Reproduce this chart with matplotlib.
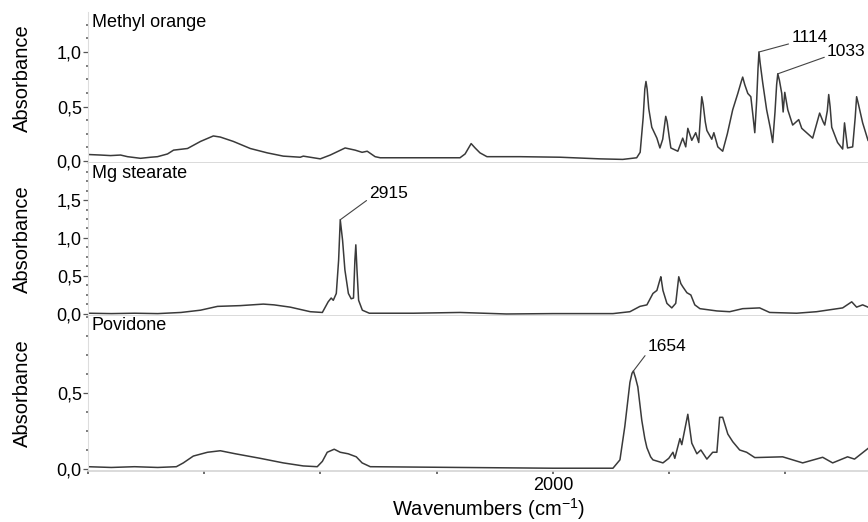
import matplotlib
matplotlib.use("Agg")
import matplotlib.pyplot as plt
from matplotlib.ticker import MultipleLocator

plt.rcParams['font.family'] = ['Liberation Sans', 'DejaVu Sans']
plt.rcParams['mathtext.fontset'] = 'custom'
plt.rcParams['mathtext.rm'] = 'Liberation Sans'

# IR spectra, wavenumber (cm-1) / absorbance
mo_wn = [4000, 3946, 3903, 3860, 3830, 3774, 3730, 3701, 3658, 3632, 3572, 3516,
         3461, 3431, 3375, 3302, 3229, 3160, 3087, 3074, 3001, 2958, 2894, 2851,
         2821, 2799, 2765, 2743, 2571, 2400, 2378, 2352, 2335, 2314, 2284, 2142,
         1970, 1798, 1700, 1640, 1625, 1612, 1605, 1600, 1595, 1588, 1575, 1553,
         1540, 1528, 1520, 1515, 1509, 1500, 1493, 1463, 1442, 1429, 1420, 1403,
         1386, 1373, 1366, 1360, 1354, 1345, 1338, 1317, 1308, 1291, 1270, 1250,
         1227, 1205, 1190, 1184, 1175, 1162, 1149, 1140, 1132, 1124, 1118, 1114,
         1109, 1098, 1081, 1065, 1055, 1045, 1038, 1033, 1026, 1016, 1010, 1003,
         990, 969, 943, 930, 883, 853, 838, 831, 820, 814, 808, 801, 776, 754,
         746, 733, 711, 700, 694, 686, 668, 645]
mo_abs = [0.06, 0.055, 0.05, 0.055, 0.04, 0.025, 0.035, 0.04, 0.065, 0.10, 0.115, 0.18,
          0.23, 0.22, 0.18, 0.115, 0.075, 0.045, 0.035, 0.045, 0.02, 0.055, 0.12, 0.10,
          0.08, 0.09, 0.04, 0.03, 0.03, 0.03, 0.065, 0.16, 0.12, 0.075, 0.04, 0.04,
          0.035, 0.02, 0.015, 0.03, 0.08, 0.40, 0.66, 0.73, 0.66, 0.48, 0.31, 0.21,
          0.12, 0.20, 0.33, 0.41, 0.36, 0.22, 0.12, 0.09, 0.21, 0.13, 0.30, 0.19,
          0.26, 0.17, 0.40, 0.59, 0.52, 0.36, 0.28, 0.20, 0.26, 0.13, 0.09, 0.25,
          0.47, 0.62, 0.73, 0.77, 0.70, 0.62, 0.59, 0.42, 0.26, 0.55, 0.85, 1.00,
          0.90, 0.72, 0.47, 0.30, 0.17, 0.45, 0.70, 0.80, 0.74, 0.62, 0.45, 0.63,
          0.47, 0.33, 0.38, 0.30, 0.21, 0.44, 0.36, 0.33, 0.46, 0.61, 0.50, 0.31,
          0.17, 0.11, 0.35, 0.12, 0.13, 0.40, 0.59, 0.52, 0.35, 0.19]

mg_wn = [4000, 3900, 3800, 3700, 3600, 3516, 3443, 3345, 3246, 3200, 3130, 3044,
         2992, 2967, 2954, 2945, 2932, 2922, 2915, 2905, 2895, 2880, 2868, 2858,
         2852, 2848, 2843, 2836, 2820, 2790, 2600, 2400, 2200, 2000, 1742, 1669,
         1626, 1596, 1570, 1553, 1540, 1536, 1527, 1510, 1489, 1472, 1459, 1450,
         1442, 1424, 1407, 1390, 1368, 1295, 1240, 1184, 1111, 1068, 952, 866,
         754, 715, 694, 668, 645]
mg_abs = [0.01, 0.005, 0.01, 0.005, 0.02, 0.05, 0.10, 0.11, 0.13, 0.12, 0.09, 0.03,
          0.02, 0.16, 0.21, 0.18, 0.27, 0.71, 1.24, 0.97, 0.58, 0.27, 0.20, 0.21,
          0.71, 0.91, 0.58, 0.18, 0.05, 0.01, 0.01, 0.02, 0.0, 0.005, 0.005, 0.03,
          0.10, 0.12, 0.27, 0.31, 0.45, 0.49, 0.31, 0.14, 0.08, 0.14, 0.49, 0.40,
          0.36, 0.28, 0.25, 0.12, 0.07, 0.04, 0.03, 0.07, 0.08, 0.02, 0.01, 0.03,
          0.08, 0.16, 0.09, 0.12, 0.09]

pv_wn = [4000, 3900, 3800, 3700, 3620, 3590, 3547, 3486, 3431, 3366, 3259, 3160,
         3074, 3014, 2992, 2971, 2941, 2915, 2881, 2846, 2821, 2786, 2400, 2000,
         1742, 1712, 1691, 1669, 1660, 1654, 1645, 1635, 1618, 1605, 1596, 1580,
         1570, 1527, 1502, 1484, 1476, 1454, 1446, 1420, 1403, 1381, 1364, 1338,
         1313, 1295, 1283, 1270, 1248, 1227, 1197, 1167, 1132, 1012, 926, 840,
         797, 733, 703, 645]
pv_abs = [0.015, 0.01, 0.015, 0.01, 0.015, 0.04, 0.085, 0.11, 0.12, 0.10, 0.07, 0.04,
          0.02, 0.015, 0.05, 0.11, 0.13, 0.11, 0.10, 0.08, 0.04, 0.015, 0.01, 0.005,
          0.005, 0.06, 0.28, 0.57, 0.63, 0.645, 0.60, 0.54, 0.32, 0.20, 0.14, 0.08,
          0.06, 0.04, 0.07, 0.11, 0.07, 0.20, 0.16, 0.36, 0.17, 0.10, 0.125, 0.065,
          0.11, 0.11, 0.34, 0.34, 0.23, 0.18, 0.125, 0.11, 0.075, 0.08, 0.04, 0.077,
          0.04, 0.08, 0.065, 0.135]

names = ["Methyl orange", "Mg stearate", "Povidone"]
spectra = [(mo_wn, mo_abs), (mg_wn, mg_abs), (pv_wn, pv_abs)]
ylims = [(-0.018, 1.367), (-0.02, 1.987), (-0.01, 1.01)]
yticks = [[0.0, 0.5, 1.0], [0.0, 0.5, 1.0, 1.5], [0.0, 0.5]]
ytick_labels = [["0,0", "0,5", "1,0"], ["0,0", "0,5", "1,0", "1,5"], ["0,0", "0,5"]]
# peak labels: (panel, wavenumber, text position wn, text position abs)
peaks = [(0, 1114, 975, 1.06), (0, 1033, 821, 0.94), (1, 2915, 2790, 1.49), (2, 1654, 1592, 0.755)]

W, H = 868, 522
fig = plt.figure(figsize=(W / 100, H / 100), dpi=100)
bounds = [(12, 163), (163, 315.5), (315.5, 470.5)]
left = 88
axes = []
for i, (top, bot) in enumerate(bounds):
    ax = fig.add_axes([left / W, 1 - bot / H, (W - left) / W, (bot - top) / H])
    wn, ab = spectra[i]
    ax.plot(wn, ab, color="#3a3a3a", lw=1.1)
    ax.set_xlim(4000, 645)
    ax.set_ylim(*ylims[i])
    ax.set_yticks(yticks[i], ytick_labels[i])
    ax.yaxis.set_minor_locator(MultipleLocator(0.125))
    ax.tick_params(axis="y", which="major", length=3.5, width=0.9, color="#555555",
                   labelsize=13, pad=1)
    ax.tick_params(axis="y", which="minor", length=1.5, width=1.2, color="#666666")
    for s in ["top", "right"]:
        ax.spines[s].set_visible(False)
    ax.spines["left"].set_color("#dddddd")
    ax.spines["bottom"].set_color("#d4d4d4")
    ax.spines["bottom"].set_linewidth(1.2)
    ax.text(0.005, 0.99 if i else 0.985, names[i], transform=ax.transAxes, ha="left",
            va="top", fontsize=13)
    fig.text(22 / W, 1 - ((top + bot) / 2 - (9 if i == 0 else 0)) / H, "Absorbance",
             rotation=90, ha="center", va="center", fontsize=14.5)
    if i < 2:
        ax.set_xticks([])
    else:
        ax.xaxis.set_major_locator(MultipleLocator(500))
        ax.xaxis.set_major_formatter(lambda v, p: "2000" if abs(v - 2000) < 1 else "")
        ax.tick_params(axis="x", length=2, width=1.2, color="#555555", labelsize=13, pad=3)
    axes.append(ax)

fig.text(489 / W, 1 - 509 / H, "Wavenumbers (cm$^{\\mathregular{-1}}$)",
         ha="center", va="center", fontsize=14.5)

for i, pk, tx, ty in peaks:
    wn, ab = spectra[i]
    ax = axes[i]
    ax.annotate(str(pk), xy=(pk, ab[wn.index(pk)]), xytext=(tx, ty), fontsize=12.5,
                ha="left", va="bottom", annotation_clip=False,
                arrowprops=dict(arrowstyle="-", color="#444444", lw=0.8,
                                shrinkA=0, shrinkB=0, relpos=(0, 0.15)))

fig.savefig("out.png", dpi=100, facecolor="white")
